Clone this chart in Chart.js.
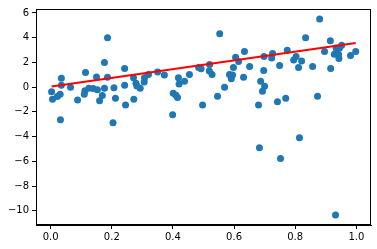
<!DOCTYPE html>
<html lang="en">
<head>
    <meta charset="UTF-8">
    <title>scatter</title>
    <script src="https://cdn.jsdelivr.net/npm/chart.js"></script>
    <style>
        html, body { margin: 0; padding: 0; background: #fff; }
        #wrap { width: 377px; height: 249px; }
    </style>
</head>
<body>
    <div id="wrap"><canvas id="myChart" width="377" height="249"></canvas></div>
    <script>
        const xs = [0.003, 0.006, 0.022, 0.031, 0.035, 0.035, 0.032, 0.065, 0.088, 0.114,
                    0.112, 0.110, 0.125, 0.139, 0.150, 0.153, 0.160, 0.169, 0.176, 0.176,
                    0.186, 0.186, 0.207, 0.204, 0.212, 0.242, 0.242, 0.245, 0.271, 0.272,
                    0.279, 0.282, 0.293, 0.307, 0.306, 0.320, 0.350, 0.372, 0.399, 0.401,
                    0.410, 0.415, 0.418, 0.420, 0.438, 0.454, 0.484, 0.492, 0.497, 0.520,
                    0.519, 0.528, 0.546, 0.553, 0.569, 0.585, 0.591, 0.595, 0.591, 0.598,
                    0.605, 0.615, 0.631, 0.634, 0.651, 0.680, 0.687, 0.693, 0.700, 0.697,
                    0.698, 0.723, 0.726, 0.742, 0.749, 0.769, 0.774, 0.795, 0.803, 0.811,
                    0.821, 0.834, 0.857, 0.873, 0.880, 0.896, 0.915, 0.916, 0.928, 0.937,
                    0.942, 0.945, 0.952, 0.934, 0.943, 0.981, 0.998, 0.683, 0.752, 0.814,
                    0.932];
        const ys = [-0.38, -0.97, -0.76, -0.57, 0.71, 0.15, -2.63, -0.01, -1.05, 1.19,
                    -0.30, -0.57, -0.09, -0.12, 0.82, -0.22, -1.11, -0.68, -0.09, 2.00,
                    4.00, 0.79, -0.04, -2.89, -0.89, 1.51, 0.15, -1.45, 0.76, -0.97,
                    0.31, 0.10, -0.09, 0.76, 0.42, 1.03, 1.22, 0.98, -2.23, -0.49,
                    -0.65, -0.84, 0.76, 0.26, 0.47, 1.03, 1.59, 1.48, -1.45, 1.83,
                    1.30, 1.03, -0.73, 4.32, -0.01, 1.03, 0.90, 0.98, 0.68, 1.59,
                    2.42, 2.08, 0.79, 2.88, 1.67, -1.45, 0.47, -0.33, 0.07, 1.35,
                    2.48, 2.36, 2.72, -1.19, 1.75, -0.89, 2.98, 2.20, 2.48, 1.59,
                    2.12, 4.00, 1.67, -0.73, 5.52, 2.88, 3.76, 1.51, 2.66, 2.90,
                    2.64, 3.17, 3.38, 3.17, 2.32, 2.56, 2.88, -4.90, -5.78, -4.09,
                    -10.34];

        // fitted line, drawn between the smallest and largest x
        const fitX = [0.003, 0.998];
        const fitY = [0.05, 3.57];

        const xTicks = [0.0, 0.2, 0.4, 0.6, 0.8, 1.0];
        const yTicks = [-10, -8, -6, -4, -2, 0, 2, 4, 6];

        const points = xs.map((x, i) => ({ x: x, y: ys[i] }));
        const line = fitX.map((x, i) => ({ x: x, y: fitY[i] }));

        const frame = {
            id: 'frame',
            afterDraw(chart) {
                const a = chart.chartArea;
                const c = chart.ctx;
                c.save();
                c.strokeStyle = '#000';
                c.lineWidth = 1;
                c.strokeRect(Math.round(a.left) + 0.5, Math.round(a.top) + 0.5,
                             Math.round(a.right - a.left) - 1, Math.round(a.bottom - a.top) - 1);
                c.restore();
            }
        };

        const font = { family: 'DejaVu Sans', size: 10 };

        new Chart(document.getElementById('myChart'), {
            type: 'scatter',
            data: {
                datasets: [
                    {
                        data: line,
                        type: 'line',
                        showLine: true,
                        borderColor: '#ff0000',
                        borderWidth: 2,
                        pointRadius: 0,
                        order: 0
                    },
                    {
                        data: points,
                        backgroundColor: '#1f77b4',
                        borderWidth: 0,
                        pointRadius: 3.5,
                        order: 1
                    }
                ]
            },
            options: {
                responsive: false,
                animation: false,
                layout: { padding: { left: 0, top: 7, right: 6, bottom: 0 } },
                plugins: { legend: { display: false }, tooltip: { enabled: false } },
                scales: {
                    x: {
                        type: 'linear',
                        min: -0.048,
                        max: 1.048,
                        afterBuildTicks: s => { s.ticks = xTicks.map(v => ({ value: v })); },
                        afterFit: s => { s.height = 24; },
                        ticks: {
                            color: '#000',
                            font: font,
                            padding: 2,
                            maxRotation: 0,
                            callback: v => v.toFixed(1)
                        },
                        grid: { drawOnChartArea: false, color: '#000', tickLength: 4 },
                        border: { color: '#000' }
                    },
                    y: {
                        type: 'linear',
                        min: -11.15,
                        max: 6.32,
                        afterBuildTicks: s => { s.ticks = yTicks.map(v => ({ value: v })); },
                        afterFit: s => { s.width = 36; },
                        ticks: {
                            color: '#000',
                            font: font,
                            padding: 3,
                            callback: v => (v < 0 ? '\u2212' + Math.abs(v) : String(v))
                        },
                        grid: { drawOnChartArea: false, color: '#000', tickLength: 4 },
                        border: { color: '#000' }
                    }
                }
            },
            plugins: [frame]
        });
    </script>
</body>
</html>
